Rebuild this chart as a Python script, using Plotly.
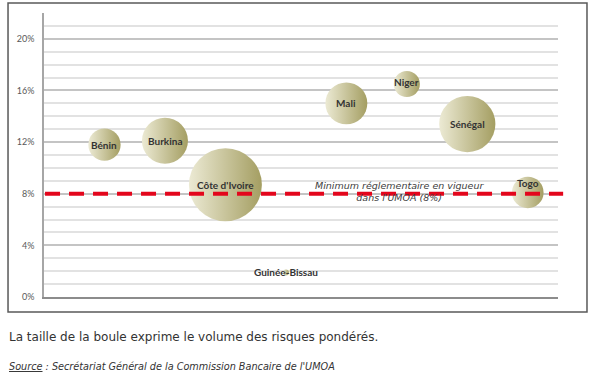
import plotly.graph_objects as go

# Data
pays = ["Bénin", "Burkina", "Côte d'Ivoire", "Guinée-Bissau", "Mali", "Niger", "Sénégal", "Togo"]
ratio_solvabilite = [0.118, 0.121, 0.087, 0.019, 0.150, 0.165, 0.134, 0.081]
volume_risques = [260, 530, 1330, 5, 440, 170, 790, 250]
minimum_reglementaire = 0.08
y_ticks = [0, 0.04, 0.08, 0.12, 0.16, 0.20]
y_tick_labels = ["0%", "4%", "8%", "12%", "16%", "20%"]

x_pos = list(range(1, len(pays) + 1))

fig = go.Figure()
fig.add_trace(go.Scatter(
    x=x_pos, y=ratio_solvabilite, mode="markers",
    marker=dict(
        size=volume_risques, sizemode="area", sizeref=0.5, sizemin=3,
        color="#ecead4",
        gradient=dict(type="horizontal", color="#a49e62"),
        line=dict(width=0), opacity=1,
    ),
    hoverinfo="skip", showlegend=False,
))

# Labels on bubbles
label_shift = {"Togo": 9, "Niger": 2}
for xi, yi, name in zip(x_pos, ratio_solvabilite, pays):
    fig.add_annotation(
        x=xi, y=yi, text=name, showarrow=False,
        yshift=label_shift.get(name, 0),
        font=dict(family="Lato", size=10, color="#333333", weight="bold"),
    )

# Regulatory minimum line
fig.add_shape(type="line", xref="paper", yref="y", x0=0.002, x1=1.01,
              y0=minimum_reglementaire, y1=minimum_reglementaire,
              line=dict(color="#e3061c", width=4, dash="15px,9px"), layer="above")
fig.add_annotation(
    x=5.88, y=minimum_reglementaire, xref="x", yref="y",
    text="Minimum réglementaire en vigueur<br>dans l'UMOA (8%)",
    showarrow=False, align="center", yshift=2,
    font=dict(family="DejaVu Sans", size=9.5, color="#404040", style="italic"),
)

# Outer frame
fig.add_shape(type="rect", xref="paper", yref="paper",
              x0=-0.0700, x1=1.0564, y0=-0.0528, y1=1.035,
              line=dict(color="#595959", width=1.5), layer="below")

# Captions below the frame
fig.add_annotation(
    xref="paper", yref="paper", x=-0.0720, y=-0.141, xanchor="left", yanchor="middle",
    text="La taille de la boule exprime le volume des risques pondérés.",
    showarrow=False, font=dict(family="DejaVu Sans", size=12, color="#333333"),
)
fig.add_annotation(
    xref="paper", yref="paper", x=-0.0720, y=-0.243, xanchor="left", yanchor="middle",
    text="<i><u>Source</u> : Secrétariat Général de la Commission Bancaire de l'UMOA</i>",
    showarrow=False, font=dict(family="DejaVu Sans", size=9.7, color="#333333"),
)

fig.update_layout(
    width=600, height=381,
    margin=dict(l=44, r=42, t=13, b=84),
    paper_bgcolor="white", plot_bgcolor="white",
    xaxis=dict(range=[0, 8.5], showgrid=False, zeroline=False, showticklabels=False,
               showline=True, linecolor="#8c8c8c", linewidth=2, ticks=""),
    yaxis=dict(range=[0, 0.22], tickvals=y_ticks, ticktext=y_tick_labels,
               showgrid=True, gridcolor="#c4c4c4", gridwidth=2,
               minor=dict(dtick=0.01, tick0=0, showgrid=True, gridcolor="#e2e2e2", gridwidth=1.5),
               zeroline=False, showline=True, linecolor="#a6a6a6", linewidth=1.5,
               ticks="", ticklabelstandoff=6,
               tickfont=dict(family="Lato", size=9, color="#595959")),
)

fig.write_html("out.html", config={"displayModeBar": False},
               post_script="document.body.style.margin='0';")
